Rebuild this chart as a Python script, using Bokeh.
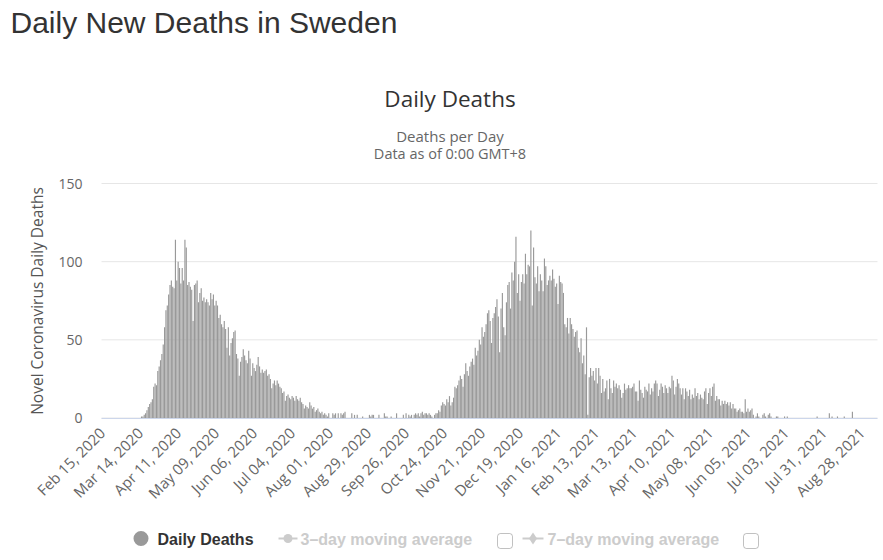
import math
from bokeh.plotting import figure
from bokeh.models import Range1d, FixedTicker, BoxAnnotation
from bokeh.core.properties import value
from bokeh.embed import file_html
from bokeh.resources import INLINE

# ---------------- data (daily deaths, one value per day from Feb 15, 2020) -------------
deaths = [
    # Feb 15 - Mar 13, 2020
    0, 0, 0, 0, 0, 0, 0,
    0, 0, 0, 0, 0, 0, 0,
    0, 0, 0, 0, 0, 0, 0,
    0, 0, 0, 0, 0, 0, 0,
    # Mar 14 - Apr 10
    0, 1, 1, 2, 3, 5, 7,
    9, 10, 12, 20, 22, 21, 30,
    33, 37, 41, 47, 58, 69, 72,
    79, 85, 88, 84, 83, 114, 88,
    # Apr 11 - May 08
    100, 96, 86, 96, 88, 114, 109,
    85, 87, 84, 82, 62, 85, 86,
    88, 74, 80, 83, 75, 77, 74,
    76, 74, 72, 80, 76, 79, 72,
    # May 09 - Jun 05
    75, 72, 64, 66, 60, 58, 62,
    57, 45, 58, 40, 48, 51, 55,
    56, 41, 38, 27, 36, 39, 44,
    40, 37, 35, 43, 38, 27, 35,
    # Jun 06 - Jul 03
    32, 30, 34, 39, 33, 29, 31,
    29, 30, 31, 27, 28, 25, 19,
    22, 24, 21, 24, 22, 20, 19,
    16, 17, 11, 14, 15, 13, 12,
    # Jul 04 - Jul 31
    14, 13, 11, 14, 12, 11, 13,
    10, 9, 6, 8, 7, 6, 10,
    8, 6, 7, 4, 5, 6, 4,
    3, 4, 2, 3, 2, 1, 3,
    # Aug 01 - Aug 28
    0, 0, 3, 2, 3, 0, 3,
    0, 3, 2, 3, 4, 0, 0,
    0, 0, 3, 0, 2, 0, 2,
    0, 0, 0, 1, 0, 0, 0,
    # Aug 29 - Sep 25
    0, 2, 1, 2, 2, 0, 0,
    0, 2, 0, 0, 0, 3, 1,
    1, 0, 0, 1, 0, 0, 0,
    3, 0, 0, 0, 0, 2, 0,
    # Sep 26 - Oct 23
    3, 0, 2, 1, 2, 0, 2,
    3, 2, 3, 1, 3, 4, 2,
    3, 3, 2, 3, 2, 1, 0,
    2, 3, 3, 5, 4, 8, 10,
    # Oct 24 - Nov 20
    9, 8, 12, 10, 14, 8, 10,
    13, 20, 19, 21, 24, 27, 25,
    20, 28, 35, 30, 27, 33, 36,
    38, 34, 45, 40, 43, 50, 47,
    # Nov 21 - Dec 18
    58, 52, 55, 60, 67, 69, 62,
    48, 64, 67, 71, 76, 65, 42,
    70, 80, 58, 53, 74, 85, 87,
    70, 93, 88, 100, 116, 80, 92,
    # Dec 19 - Jan 15, 2021
    75, 87, 92, 86, 105, 92, 98,
    97, 120, 72, 109, 90, 86, 97,
    81, 92, 88, 81, 102, 97, 85,
    88, 91, 88, 95, 89, 84, 86,
    # Jan 16 - Feb 12
    73, 91, 87, 86, 80, 60, 58,
    64, 54, 64, 60, 57, 52, 55,
    56, 45, 42, 51, 35, 40, 28,
    58, 2, 26, 32, 27, 30, 24,
    # Feb 13 - Mar 12
    32, 22, 32, 27, 16, 25, 17,
    19, 24, 12, 25, 19, 16, 24,
    20, 22, 19, 21, 18, 13, 16,
    22, 18, 19, 21, 19, 19, 20,
    # Mar 13 - Apr 09
    22, 17, 17, 11, 24, 18, 16,
    13, 20, 18, 17, 22, 15, 19,
    17, 22, 24, 22, 14, 18, 22,
    20, 16, 21, 19, 16, 20, 19,
    # Apr 10 - May 07
    27, 24, 15, 20, 25, 22, 19,
    15, 19, 12, 19, 17, 14, 18,
    12, 15, 13, 19, 14, 16, 12,
    15, 13, 12, 17, 19, 9, 16,
    # May 08 - Jun 04
    19, 14, 20, 22, 11, 14, 12,
    12, 8, 11, 9, 11, 9, 10,
    8, 10, 6, 9, 6, 6, 4,
    5, 6, 4, 4, 3, 12, 4,
    # Jun 05 - Jul 02
    6, 4, 5, 6, 2, 0, 1,
    3, 1, 0, 0, 2, 3, 1,
    0, 2, 3, 1, 0, 0, 0,
    1, 1, 0, 0, 0, 0, 1,
    # Jul 03 - Jul 30
    0, 1, 0, 0, 0, 0, 0,
    0, 0, 0, 0, 0, 0, 0,
    0, 0, 0, 0, 0, 0, 0,
    0, 0, 1, 0, 0, 0, 0,
    # Jul 31 - Aug 27
    0, 0, 0, 0, 3, 0, 1,
    0, 0, 0, 1, 0, 0, 0,
    0, 1, 0, 0, 0, 0, 0,
    4, 0, 0, 0, 0, 0, 0,
    # Aug 28 - Sep 08
    0, 0, 0, 0, 0, 0, 0,
    0, 0, 0, 0, 0,
]

tick_labels = [
    "Feb 15, 2020", "Mar 14, 2020", "Apr 11, 2020", "May 09, 2020", "Jun 06, 2020",
    "Jul 04, 2020", "Aug 01, 2020", "Aug 29, 2020", "Sep 26, 2020", "Oct 24, 2020",
    "Nov 21, 2020", "Dec 19, 2020", "Jan 16, 2021", "Feb 13, 2021", "Mar 13, 2021",
    "Apr 10, 2021", "May 08, 2021", "Jun 05, 2021", "Jul 03, 2021", "Jul 31, 2021",
    "Aug 28, 2021",
]
tick_step = 28
y_ticks = [0, 50, 100, 150]
y_max = 150

page_title = "Daily New Deaths in Sweden"
chart_title = "Daily Deaths"
subtitle_1 = "Deaths per Day"
subtitle_2 = "Data as of 0:00 GMT+8"
y_title = "Novel Coronavirus Daily Deaths"
legend_names = ["Daily Deaths", "3\u2013day moving average", "7\u2013day moving average"]

# ---------------- layout constants (page pixels) ----------------
W, H = 883, 560
PL, PR, PT, PB = 101, 877, 183, 417.5   # plot area edges
FONT = "Open Sans"

N = len(deaths)
idx = list(range(N))

# ranges chosen so that the full-canvas frame maps the data into the plot area
kx = (PR - PL) / N
ky = (PB - PT) / y_max
x_range = Range1d(-0.5 - PL / kx, N - 0.5 + (W - PR) / kx)
y_range = Range1d(0 - (H - PB) / ky, y_max + PT / ky)

p = figure(width=W, height=H, output_backend="svg", toolbar_location=None,
           x_range=x_range, y_range=y_range, title=None,
           min_border=0, min_border_left=0, min_border_right=0,
           min_border_top=0, min_border_bottom=0)
p.extra_x_ranges = {"px": Range1d(0, W)}
p.extra_y_ranges = {"px": Range1d(H, 0)}
p.outline_line_color = None
p.background_fill_color = "white"
p.border_fill_color = "white"
p.xgrid.visible = False
p.ygrid.visible = False

# horizontal grid lines limited to the plot area
p.segment(x0=[-0.5] * len(y_ticks), x1=[N - 0.5] * len(y_ticks), y0=y_ticks, y1=y_ticks,
          line_color="#e6e6e6", line_width=1)

# bars
p.vbar(x=idx, top=deaths, width=0.85, fill_color="#999999", line_color=None)

# x axis
tick_pos = [i * tick_step for i in range(len(tick_labels))]
p.xaxis.fixed_location = 0
p.xaxis.bounds = (-0.5, N - 0.5)
p.xaxis.ticker = FixedTicker(ticks=tick_pos)
p.xaxis.major_label_overrides = {t: lab for t, lab in zip(tick_pos, tick_labels)}
p.xaxis.major_label_orientation = math.pi / 4
p.xaxis.axis_line_color = "#ccd6eb"
p.xaxis.major_tick_line_color = None
p.xaxis.minor_tick_line_color = None
p.xaxis.major_label_text_color = "#666666"
p.xaxis.major_label_text_font = FONT
p.xaxis.major_label_text_font_size = "15px"
p.xaxis.major_label_standoff = 6

# y axis
p.yaxis.fixed_location = -0.5
p.yaxis.bounds = (0, y_max)
p.yaxis.ticker = FixedTicker(ticks=y_ticks)
p.yaxis.axis_line_color = None
p.yaxis.major_tick_line_color = None
p.yaxis.minor_tick_line_color = None
p.yaxis.major_label_text_color = "#666666"
p.yaxis.major_label_text_font = FONT
p.yaxis.major_label_text_font_size = "14px"
p.yaxis.major_label_standoff = 13
p.yaxis.axis_label = y_title
p.yaxis.axis_label_text_font = FONT
p.yaxis.axis_label_text_font_size = "15.5px"
p.yaxis.axis_label_text_font_style = "normal"
p.yaxis.axis_label_text_color = "#555555"
p.yaxis.axis_label_standoff = 7


def txt(x, y, text, size, color, font=FONT, align="left", style="normal"):
    p.text(x=[x], y=[y], text=[text], x_range_name="px", y_range_name="px",
           text_font=value(font), text_font_size=size, text_color=color,
           text_align=align, text_baseline="middle", text_font_style=style)


def box(l, r, t, b, fill, line=None, radius=0):
    p.add_layout(BoxAnnotation(left=l, right=r, top=H - t, bottom=H - b,
                               left_units="screen", right_units="screen",
                               top_units="screen", bottom_units="screen",
                               fill_color=fill, fill_alpha=1, line_color=line,
                               line_width=1, border_radius=radius, level="overlay"))


# header (y = vertical centre of each line)
txt(10, 22, page_title, "30px", "#333333", font="Liberation Sans")
txt(449.5, 98, chart_title, "22.5px", "#333333", align="center")
txt(449.5, 135, subtitle_1, "15px", "#666666", align="center")
txt(449.5, 153, subtitle_2, "14.5px", "#666666", align="center")

# legend
LY = 538
LEG_FONT = "Liberation Sans"
p.scatter(x=[140.5], y=[LY], x_range_name="px", y_range_name="px", marker="circle",
          size=15, fill_color="#999999", line_color=None)
txt(157, LY + 1, legend_names[0], "16px", "#333333", font=LEG_FONT, style="bold")

p.segment(x0=[278], y0=[LY], x1=[297], y1=[LY], x_range_name="px", y_range_name="px",
          line_color="#cccccc", line_width=2)
p.scatter(x=[287.5], y=[LY], x_range_name="px", y_range_name="px", marker="circle",
          size=9, fill_color="#cccccc", line_color=None)
txt(300, LY + 1, legend_names[1], "16px", "#cccccc", font=LEG_FONT, style="bold")
box(497, 512, 533, 548, "white", line="#333333", radius=3)

p.segment(x0=[522], y0=[LY], x1=[543], y1=[LY], x_range_name="px", y_range_name="px",
          line_color="#cccccc", line_width=2)
p.scatter(x=[532.5], y=[LY], x_range_name="px", y_range_name="px", marker="diamond",
          size=12, fill_color="#cccccc", line_color=None)
txt(547, LY + 1, legend_names[2], "16px", "#cccccc", font=LEG_FONT, style="bold")
box(743, 758, 533, 548, "white", line="#333333", radius=3)

open("out.html", "w").write(file_html(p, INLINE))
